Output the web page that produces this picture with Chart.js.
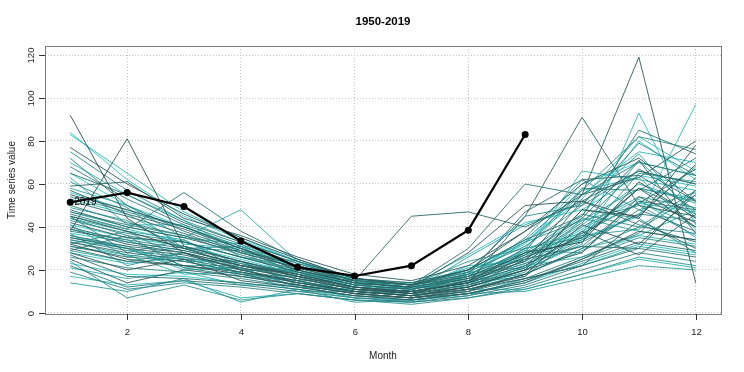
<!DOCTYPE html>
<html lang="en">
<head>
<meta charset="utf-8" />
<title>1950-2019</title>
<script src="https://cdn.jsdelivr.net/npm/chart.js"></script>
<style>
  html, body { margin: 0; padding: 0; background: #fff; }
  #chart { display: block; }
</style>
</head>
<body>
<canvas id="chart" width="744" height="372"></canvas>
<script>
// ---- data ----
var months = [1, 2, 3, 4, 5, 6, 7, 8, 9, 10, 11, 12];
var xTicks = [2, 4, 6, 8, 10, 12];
var yTicks = [0, 20, 40, 60, 80, 100, 120];
var years = [];
for (var yr = 1950; yr <= 2018; yr++) years.push(yr);

var pastValues = [
  [45, 38, 30, 22, 18, 12, 9, 15, 28, 33, 61, 44],
  [92, 44, 28, 20, 14, 10, 8, 12, 20, 48, 45, 69],
  [32, 25, 22, 18, 13, 9, 7, 10, 18, 41, 32, 55],
  [38, 81, 31, 24, 17, 11, 10, 14, 26, 35, 58, 40],
  [55, 48, 40, 30, 20, 14, 12, 28, 50, 52, 44, 78],
  [28, 20, 25, 15, 12, 8, 6, 9, 14, 25, 38, 34],
  [77, 60, 46, 35, 25, 16, 13, 20, 38, 60, 72, 52],
  [42, 35, 33, 26, 19, 13, 11, 16, 24, 55, 119, 14],
  [35, 30, 27, 21, 16, 11, 9, 12, 20, 28, 54, 42],
  [59, 61, 44, 36, 26, 18, 15, 22, 38, 55, 63, 80],
  [25, 14, 20, 17, 13, 9, 7, 11, 17, 38, 27, 46],
  [48, 40, 35, 28, 21, 14, 12, 17, 27, 44, 71, 37],
  [39, 32, 28, 22, 17, 12, 10, 14, 45, 91, 50, 45],
  [30, 24, 22, 19, 15, 10, 8, 11, 16, 22, 43, 30],
  [57, 46, 39, 30, 22, 15, 45, 47, 40, 52, 66, 60],
  [33, 28, 25, 20, 15, 10, 8, 12, 25, 31, 30, 57],
  [52, 45, 37, 28, 21, 15, 13, 18, 47, 62, 64, 48],
  [40, 33, 29, 23, 17, 12, 10, 14, 22, 37, 51, 67],
  [27, 17, 16, 14, 11, 8, 7, 9, 15, 24, 33, 29],
  [65, 55, 42, 33, 24, 16, 14, 20, 34, 45, 85, 74],
  [36, 31, 28, 22, 16, 11, 9, 13, 21, 52, 41, 33],
  [46, 39, 56, 38, 25, 16, 13, 17, 25, 42, 67, 52],
  [31, 26, 24, 19, 14, 10, 8, 11, 18, 30, 48, 38],
  [72, 50, 38, 29, 22, 15, 13, 30, 60, 55, 70, 64],
  [22, 12, 15, 13, 10, 7, 5, 8, 13, 22, 30, 26],
  [50, 42, 36, 27, 20, 14, 12, 16, 30, 58, 57, 72],
  [38, 34, 30, 24, 18, 12, 10, 15, 23, 31, 52, 48],
  [29, 36, 21, 17, 13, 9, 7, 10, 16, 26, 37, 63],
  [44, 36, 31, 24, 18, 12, 10, 14, 22, 36, 58, 46],
  [34, 29, 26, 21, 16, 11, 9, 13, 20, 33, 46, 43],
  [68, 53, 41, 32, 23, 15, 13, 19, 31, 50, 79, 64],
  [19, 11, 14, 12, 9, 6, 5, 7, 12, 20, 28, 24],
  [47, 41, 36, 29, 22, 15, 13, 18, 28, 46, 40, 57],
  [26, 21, 19, 16, 12, 8, 6, 9, 15, 25, 35, 31],
  [54, 47, 40, 31, 23, 16, 14, 19, 45, 50, 66, 60],
  [33, 27, 24, 19, 14, 10, 8, 11, 18, 29, 40, 37],
  [75, 57, 43, 33, 24, 16, 13, 20, 34, 57, 82, 76],
  [43, 37, 33, 26, 20, 13, 11, 15, 24, 40, 54, 49],
  [24, 7, 13, 6, 9, 6, 4, 7, 11, 18, 26, 22],
  [45, 28, 34, 20, 20, 14, 9, 17, 33, 43, 50, 36],
  [32, 38, 25, 24, 13, 10, 12, 12, 19, 48, 44, 28],
  [61, 49, 30, 31, 17, 15, 13, 24, 30, 35, 65, 61],
  [37, 22, 28, 18, 17, 9, 10, 14, 28, 36, 39, 55],
  [14, 10, 16, 5, 11, 5, 6, 9, 10, 16, 22, 20],
  [49, 43, 30, 29, 15, 15, 11, 17, 35, 62, 48, 56],
  [35, 31, 22, 22, 19, 11, 8, 19, 21, 34, 58, 52],
  [41, 26, 31, 20, 19, 13, 14, 15, 29, 28, 52, 40],
  [29, 24, 28, 18, 15, 9, 7, 14, 17, 44, 38, 34],
  [58, 50, 35, 32, 19, 16, 10, 26, 41, 51, 74, 44],
  [36, 30, 20, 21, 12, 11, 9, 13, 27, 34, 46, 68],
  [44, 38, 34, 22, 20, 12, 12, 21, 25, 41, 60, 51],
  [21, 16, 19, 13, 13, 7, 6, 8, 16, 22, 31, 27],
  [63, 41, 41, 26, 22, 15, 11, 18, 29, 57, 63, 39],
  [31, 27, 18, 19, 10, 10, 8, 15, 18, 30, 36, 48],
  [47, 40, 35, 48, 24, 15, 12, 16, 26, 43, 58, 53],
  [39, 34, 24, 24, 14, 12, 10, 14, 30, 37, 71, 46],
  [17, 13, 15, 7, 9, 6, 5, 11, 11, 18, 25, 21],
  [53, 46, 32, 30, 18, 15, 9, 18, 28, 66, 62, 57],
  [83, 65, 47, 35, 24, 16, 13, 20, 33, 55, 75, 70],
  [28, 23, 26, 17, 15, 9, 7, 10, 22, 26, 36, 32],
  [70, 55, 43, 28, 24, 13, 14, 20, 33, 53, 82, 66],
  [34, 30, 21, 21, 12, 11, 8, 12, 20, 32, 93, 41],
  [45, 39, 33, 26, 19, 13, 11, 22, 24, 39, 53, 35],
  [23, 18, 17, 14, 11, 7, 6, 9, 14, 23, 32, 28],
  [56, 48, 40, 31, 22, 15, 13, 27, 42, 48, 64, 59],
  [37, 33, 29, 23, 17, 12, 10, 14, 21, 35, 45, 97],
  [41, 35, 31, 25, 18, 13, 11, 15, 23, 38, 51, 47],
  [84, 62, 45, 34, 24, 16, 13, 19, 32, 60, 70, 64],
  [65, 50, 40, 30, 21, 14, 12, 17, 27, 45, 80, 62]
];
var currentYear = 2019;
var currentValues = [51.5, 56, 49.5, 33.5, 21.2, 17.2, 22, 38.5, 83];

// colour ramp: older years dark slate, recent years turquoise
function rampColor(i, n) {
  var t = n > 1 ? i / (n - 1) : 0;
  var r = Math.round(47 + (40 - 47) * t);
  var g = Math.round(79 + (200 - 79) * t);
  var b = Math.round(79 + (200 - 79) * t);
  return 'rgba(' + r + ',' + g + ',' + b + ',0.9)';
}

function toPoints(vals) {
  return vals.map(function (v, i) { return { x: months[i], y: v }; });
}

var datasets = [{
  label: String(currentYear),
  data: toPoints(currentValues),
  borderColor: '#000',
  backgroundColor: '#000',
  borderWidth: 2.2,
  pointRadius: 3.5,
  pointBorderWidth: 0,
  pointHoverRadius: 3.5,
  tension: 0
}];
pastValues.forEach(function (vals, i) {
  datasets.push({
    label: String(years[i]),
    data: toPoints(vals),
    borderColor: rampColor(i, pastValues.length),
    borderWidth: 1,
    pointRadius: 0,
    tension: 0
  });
});

var FONT = '"Liberation Sans", Arial, Helvetica, sans-serif';

// R-style box, ticks, labels and titles
var rStyle = {
  id: 'rStyle',
  afterDraw: function (chart) {
    var ctx = chart.ctx, a = chart.chartArea;
    var xs = chart.scales.x, ys = chart.scales.y;
    ctx.save();
    ctx.strokeStyle = '#7a7a7a';
    ctx.lineWidth = 1;
    ctx.strokeRect(Math.round(a.left) + 0.5, Math.round(a.top) + 0.5,
      Math.round(a.right - a.left), Math.round(a.bottom - a.top));

    ctx.strokeStyle = '#333';
    ctx.fillStyle = '#222';
    ctx.font = '9.5px ' + FONT;
    // x ticks
    ctx.textAlign = 'center';
    ctx.textBaseline = 'middle';
    xTicks.forEach(function (v) {
      var px = Math.round(xs.getPixelForValue(v)) + 0.5;
      ctx.beginPath();
      ctx.moveTo(px, a.bottom);
      ctx.lineTo(px, a.bottom + 6);
      ctx.stroke();
      ctx.fillText(String(v), px, 332);
    });
    // y ticks (labels rotated like R)
    yTicks.forEach(function (v) {
      var py = Math.round(ys.getPixelForValue(v)) + 0.5;
      ctx.beginPath();
      ctx.moveTo(a.left - 6, py);
      ctx.lineTo(a.left, py);
      ctx.stroke();
      ctx.save();
      ctx.translate(31, py);
      ctx.rotate(-Math.PI / 2);
      ctx.fillText(String(v), 0, 0);
      ctx.restore();
    });

    // axis titles
    ctx.font = '10px ' + FONT;
    ctx.fillText('Month', (a.left + a.right) / 2, 356);
    ctx.save();
    ctx.translate(12, (a.top + a.bottom) / 2);
    ctx.rotate(-Math.PI / 2);
    ctx.fillText('Time series value', 0, 0);
    ctx.restore();

    // main title
    ctx.fillStyle = '#000';
    ctx.font = 'bold 11.5px ' + FONT;
    ctx.fillText('1950-2019', (a.left + a.right) / 2, 22);

    // year label next to first point of current year
    ctx.font = '10px ' + FONT;
    ctx.textAlign = 'left';
    ctx.fillText(String(currentYear), xs.getPixelForValue(months[0]) + 4,
      ys.getPixelForValue(currentValues[0]));
    ctx.restore();
  }
};

new Chart(document.getElementById('chart'), {
  type: 'line',
  data: { datasets: datasets },
  options: {
    responsive: false,
    animation: false,
    events: [],
    layout: { padding: { top: 46, right: 23, left: 0, bottom: 0 } },
    plugins: {
      legend: { display: false },
      title: { display: false },
      tooltip: { enabled: false }
    },
    scales: {
      x: {
        type: 'linear',
        min: 0.556,
        max: 12.444,
        afterBuildTicks: function (scale) {
          scale.ticks = xTicks.map(function (v) { return { value: v }; });
        },
        afterFit: function (scale) { scale.height = 58; },
        ticks: { display: false },
        grid: { color: '#c4c4c4', lineWidth: 1, drawTicks: false },
        border: { display: false, dash: [1, 2] }
      },
      y: {
        type: 'linear',
        min: -0.5,
        max: 124.2,
        afterBuildTicks: function (scale) {
          scale.ticks = yTicks.map(function (v) { return { value: v }; });
        },
        afterFit: function (scale) { scale.width = 45; },
        ticks: { display: false },
        grid: { color: '#c4c4c4', lineWidth: 1, drawTicks: false },
        border: { display: false, dash: [1, 2] }
      }
    }
  },
  plugins: [rStyle]
});
</script>
</body>
</html>
